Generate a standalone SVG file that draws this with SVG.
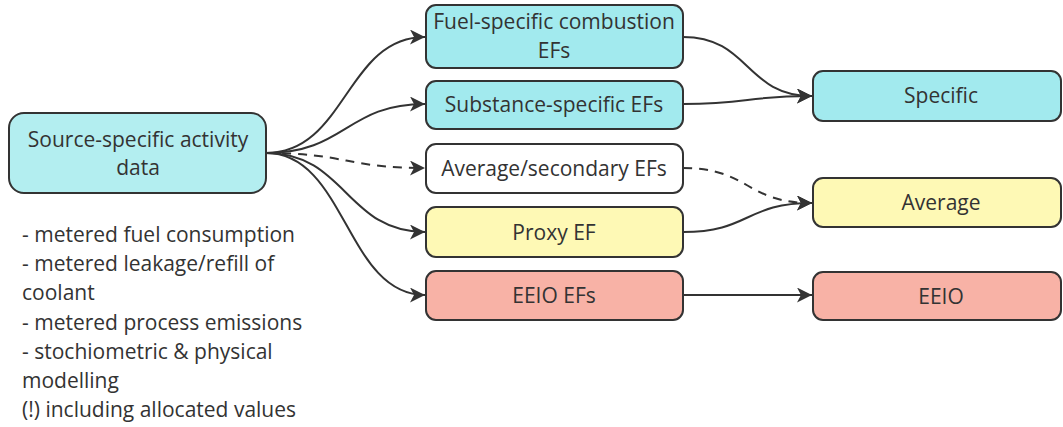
<svg xmlns="http://www.w3.org/2000/svg" width="1063" height="427" viewBox="0 0 1063 427">
  <style>
    .box { stroke: #333333; stroke-width: 2; }
    .cyan { fill: #a2eaee; }
    .white { fill: #ffffff; }
    .yellow { fill: #fef9b5; }
    .red { fill: #f8b2a6; }
    .src { fill: #b3eef0; }
    text { font-family: "Open Sans", "Liberation Sans", sans-serif; font-size: 21px; fill: #333333; }
    .lbl { text-anchor: middle; }
    .edge { fill: none; stroke: #333333; stroke-width: 2; }
    .dash { stroke-dasharray: 9 7; }
  </style>
  <defs>
    <marker id="arrow" markerUnits="userSpaceOnUse" markerWidth="18" markerHeight="18" refX="15" refY="7.5" orient="auto">
      <path d="M0,0 L15,7.5 L0,15 L4,7.5 z" fill="#333333"/>
    </marker>
  </defs>
  <rect width="1063" height="427" fill="#ffffff"/>

  <g id="connectors">
    <path class="edge" d="M266,153 C346,153 346,37 425,37" marker-end="url(#arrow)"/>
    <path class="edge" d="M266,153 C346,153 346,104 425,104" marker-end="url(#arrow)"/>
    <path class="edge dash" d="M266,153 C346,153 346,168 425,168" marker-end="url(#arrow)"/>
    <path class="edge" d="M266,153 C346,153 346,232 425,232" marker-end="url(#arrow)"/>
    <path class="edge" d="M266,153 C346,153 346,295 425,295" marker-end="url(#arrow)"/>
    <path class="edge" d="M683,37 C750,37 745,96 812,96" marker-end="url(#arrow)"/>
    <path class="edge" d="M683,104 C750,104 745,96 812,96" marker-end="url(#arrow)"/>
    <path class="edge dash" d="M683,168 C750,168 745,203 812,203" marker-end="url(#arrow)"/>
    <path class="edge" d="M683,232 C750,232 745,203 812,203" marker-end="url(#arrow)"/>
    <path class="edge" d="M683,295 L812,295" marker-end="url(#arrow)"/>
  </g>

  <g id="source">
    <rect class="box src" x="9" y="113" width="257" height="80" rx="15"/>
    <text class="lbl" x="138" y="147">Source-specific activity</text>
    <text class="lbl" x="138" y="175">data</text>
  </g>

  <g id="notes">
    <text x="22" y="242">- metered fuel consumption</text>
    <text x="22" y="271">- metered leakage/refill of</text>
    <text x="22" y="300">coolant</text>
    <text x="22" y="330">- metered process emissions</text>
    <text x="22" y="359">- stochiometric &amp; physical</text>
    <text x="22" y="388">modelling</text>
    <text x="22" y="417">(!) including allocated values</text>
  </g>

  <g id="fuel-specific">
    <rect class="box cyan" x="426" y="5" width="257" height="63" rx="10"/>
    <text class="lbl" x="554" y="29">Fuel-specific combustion</text>
    <text class="lbl" x="554" y="58">EFs</text>
  </g>
  <g id="substance-specific">
    <rect class="box cyan" x="426" y="81" width="257" height="48" rx="10"/>
    <text class="lbl" x="554" y="112">Substance-specific EFs</text>
  </g>
  <g id="average-secondary">
    <rect class="box white" x="426" y="144" width="257" height="49" rx="10"/>
    <text class="lbl" x="554" y="176">Average/secondary EFs</text>
  </g>
  <g id="proxy">
    <rect class="box yellow" x="426" y="207" width="257" height="50" rx="10"/>
    <text class="lbl" x="554" y="240">Proxy EF</text>
  </g>
  <g id="eeio-efs">
    <rect class="box red" x="426" y="271" width="257" height="49" rx="10"/>
    <text class="lbl" x="554" y="303">EEIO EFs</text>
  </g>

  <g id="specific">
    <rect class="box cyan" x="813" y="71" width="248" height="50" rx="10"/>
    <text class="lbl" x="941" y="103">Specific</text>
  </g>
  <g id="average">
    <rect class="box yellow" x="813" y="178" width="248" height="49" rx="10"/>
    <text class="lbl" x="941" y="210">Average</text>
  </g>
  <g id="eeio">
    <rect class="box red" x="813" y="272" width="248" height="48" rx="10"/>
    <text class="lbl" x="941" y="304">EEIO</text>
  </g>
</svg>
